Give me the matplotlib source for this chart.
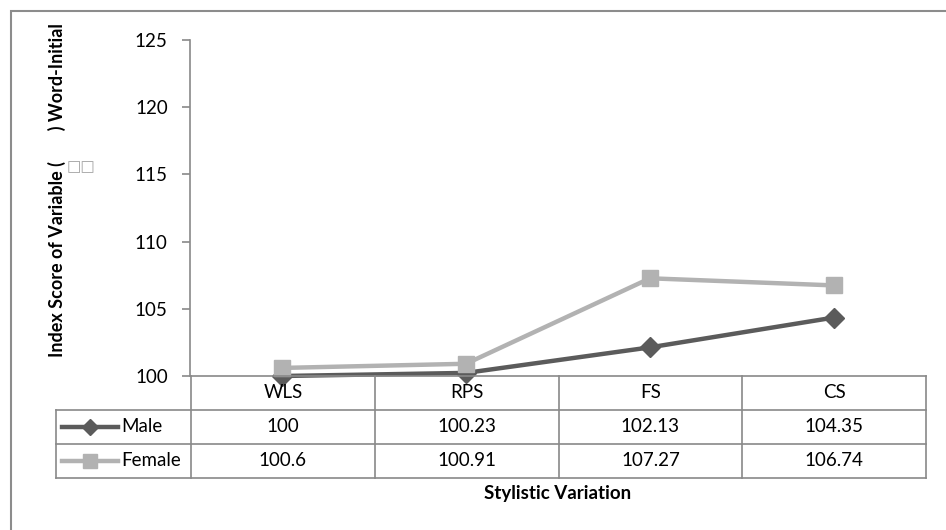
import matplotlib
matplotlib.use('Agg')
import matplotlib.pyplot as plt
from matplotlib.patches import Rectangle

categories = ['WLS', 'RPS', 'FS', 'CS']
male = [100, 100.23, 102.13, 104.35]
female = [100.6, 100.91, 107.27, 106.74]
series_names = ['Male', 'Female']
y_ticks = [100, 105, 110, 115, 120, 125]

plt.rcParams['font.family'] = ['Lato', 'DejaVu Sans']

W, H = 946, 530
MALE_C = '#5b5b5b'
FEMALE_C = '#b2b2b2'
GRID_C = '#898989'


def fx(px):
    return px / W


def fy(py):
    return 1 - py / H


fig = plt.figure(figsize=(W / 100, H / 100), dpi=100)

# outer chart border (runs off the right and bottom edges)
fig.patches.append(Rectangle((fx(11), -0.2), 1.2, fy(11) + 0.2, transform=fig.transFigure,
                             fill=False, ec='#8c8c8c', lw=1.5))

# line chart
ax = fig.add_axes([fx(190), fy(376), fx(926) - fx(190), fy(40) - fy(376)])
x = [i + 0.5 for i in range(len(categories))]
ax.plot(x, male, color=MALE_C, lw=3.2, marker='D', ms=10, clip_on=False, zorder=3)
ax.plot(x, female, color=FEMALE_C, lw=3.2, marker='s', ms=12, clip_on=False, zorder=4)
ax.set_xlim(0, len(categories))
ax.set_ylim(y_ticks[0], y_ticks[-1])
ax.set_yticks(y_ticks)
ax.set_xticks([])
for s in ['top', 'right', 'bottom']:
    ax.spines[s].set_visible(False)
ax.spines['left'].set_color(GRID_C)
ax.spines['left'].set_linewidth(1.2)
ax.tick_params(axis='y', direction='out', length=6, width=1.2, color=GRID_C,
               labelsize=13.5, pad=10)
ax.patch.set_alpha(0)

# data table under the chart
lead = 0.735
tab = fig.add_axes([fx(56), fy(478), fx(926) - fx(56), fy(376) - fy(478)])
tab.set_xlim(-lead, len(categories))
tab.set_ylim(0, 3)
tab.axis('off')
n = len(categories)
tab.plot([0, n], [3, 3], color=GRID_C, lw=1.2, clip_on=False)
for yy in [2, 1, 0]:
    tab.plot([-lead, n], [yy, yy], color=GRID_C, lw=1.2, clip_on=False)
tab.plot([-lead, -lead], [0, 2], color=GRID_C, lw=1.2, clip_on=False)
for i in range(n + 1):
    tab.plot([i, i], [0, 3], color=GRID_C, lw=1.2, clip_on=False)

for i, c in enumerate(categories):
    tab.text(i + 0.5, 2.5, c, ha='center', va='center', fontsize=13.5)

rows = [(male, MALE_C, 'D', 8), (female, FEMALE_C, 's', 10)]
for r, (vals, col, mk, ms) in enumerate(rows):
    yy = 1.5 - r
    for i, v in enumerate(vals):
        tab.text(i + 0.5, yy, f'{v:g}', ha='center', va='center', fontsize=13.5)
    tab.plot([-0.702, -0.398], [yy, yy], color=col, lw=3.2, clip_on=False)
    tab.plot([-0.55], [yy], color=col, marker=mk, ms=ms, clip_on=False)
    tab.text(-0.38, yy, series_names[r], ha='left', va='center', fontsize=13.5)

fig.text(fx(558), fy(494), 'Stylistic Variation', ha='center', va='center',
         fontsize=13.5, fontweight='bold')
fig.text(fx(57), fy(190), 'Index Score of Variable (       ) Word-Initial', rotation=90,
         ha='center', va='center', fontsize=13, fontweight='bold')
fig.text(fx(81), fy(167), '\u25a1\u25a1', ha='center', va='center', fontsize=11,
         color='#a0a0a0', family='DejaVu Sans')

fig.savefig('out.png', dpi=100)
